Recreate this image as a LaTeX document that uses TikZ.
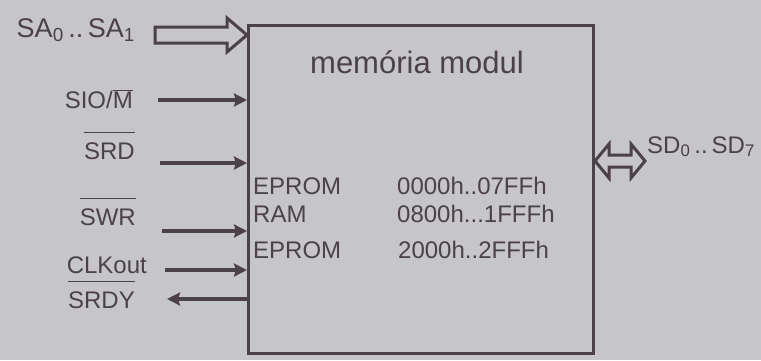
\documentclass[tikz,border=0pt]{standalone}
\usepackage{fontspec}
\setmainfont{Liberation Sans}
\usepackage{xcolor}
\definecolor{paper}{RGB}{198,197,199}
\definecolor{ink}{RGB}{74,66,70}
\usepackage{tikz}
\usetikzlibrary{arrows.meta,positioning,calc}
\newcommand{\negsig}[1]{\setbox0\hbox{#1}\vbox{\hrule width\wd0 height 1.6pt\kern 9pt\box0}}

\begin{document}
\begin{tikzpicture}[x=1pt,y=-1pt,
    every node/.style={text=ink,font=\fontsize{24}{28}\selectfont,inner sep=0pt},
    sig/.style={ink,line width=4pt,-{Stealth[length=13pt,width=13pt,inset=2pt]}},
    bus/.style={draw=ink,line width=3pt,line join=miter}]
    \fill[paper] (0,0) rectangle (761,360);
    \useasboundingbox (0,0) rectangle (761,360);

    % module box
    \node[draw=ink,line width=3pt,minimum width=345pt,minimum height=328pt,anchor=north west] (mod) at (247,24) {};
    \node[font=\fontsize{31}{35}\selectfont,anchor=base] (title) at (417,73) {memória modul};

    % memory map
    \node[anchor=base west] (m1) at (253,194) {EPROM};
    \node[anchor=base west] (m2) at (253,222) {RAM};
    \node[anchor=base west] (m3) at (253,258) {EPROM};
    \node[anchor=base west] (a1) at (397,194) {0000h..07FFh};
    \node[anchor=base west] (a2) at (397,222) {0800h...1FFFh};
    \node[anchor=base west] (a3) at (398,258) {2000h..2FFFh};

    % signal labels
    \node[anchor=base east,font=\fontsize{27}{30}\selectfont] (lsa) at (135,37) {SA\textsubscript{0}\,..\,SA\textsubscript{1}};
    \node[anchor=base east] (lsio) at (133,108) {SIO/$\overline{\mbox{M}}$};
    \node[anchor=base east] (lsrd) at (135,159) {\negsig{SRD}};
    \node[anchor=base east] (lswr) at (136,225) {\negsig{SWR}};
    \node[anchor=base east] (lclk) at (147,273) {CLKout};
    \node[anchor=base east] (lsrdy) at (135,308) {\negsig{SRDY}};
    \node[anchor=base west,font=\fontsize{24}{27}\selectfont] (lsd) at (647,153) {SD\textsubscript{0}\,..\,SD\textsubscript{7}};

    % control lines
    \coordinate (sio) at (158,100);
    \coordinate (srd) at (160,163);
    \coordinate (swr) at (162,231);
    \coordinate (clk) at (165,270);
    \coordinate (rdy) at (167,299);
    \draw[sig] (sio) -- (sio -| mod.west);
    \draw[sig] (srd) -- (srd -| mod.west);
    \draw[sig] (swr) -- (swr -| mod.west);
    \draw[sig] (clk) -- (clk -| mod.west);
    \draw[sig] (rdy -| mod.west) -- (rdy);

    % address bus
    \coordinate (sa) at (155,35);
    \coordinate (satip) at (sa -| mod.west);
    \draw[bus] (satip) -- ++(-20,-17) -- ++(0,9) -- ++(-72,0) -- ++(0,16) -- ++(72,0) -- ++(0,9) -- cycle;

    % data bus
    \coordinate (sd) at (642,161);
    \coordinate (sdl) at (sd -| mod.east);
    \draw[bus] (sdl) -- ++(14,-17) -- ++(0,11) -- ++(22,0) -- ++(0,-11) -- ++(14,17)
        -- ++(-14,17) -- ++(0,-11) -- ++(-22,0) -- ++(0,11) -- cycle;
\end{tikzpicture}
\end{document}
